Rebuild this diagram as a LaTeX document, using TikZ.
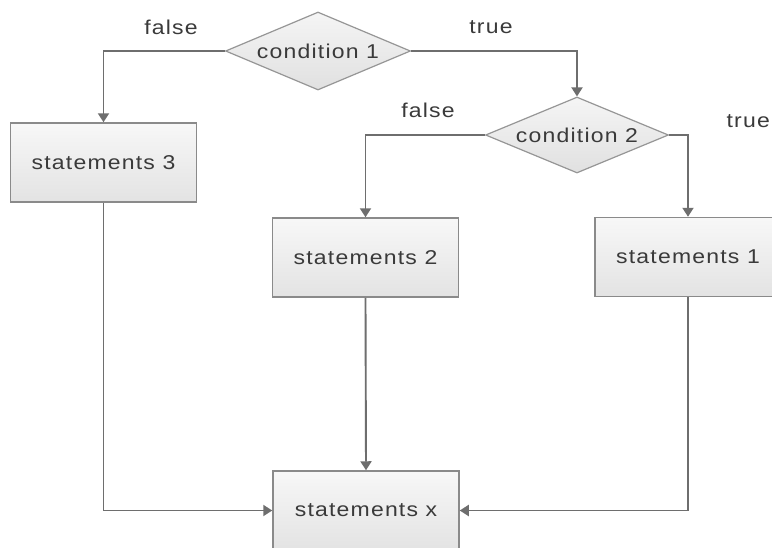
\documentclass[tikz,border=0pt]{standalone}
\usepackage{fontspec}
\setmainfont{Liberation Sans}
\newfontfamily\labfont[FakeStretch=1.15,LetterSpace=6]{Liberation Sans}
\usetikzlibrary{shapes.geometric,arrows.meta}
\definecolor{linegray}{HTML}{6E6E6E}
\definecolor{bordergray}{HTML}{8A8A8A}
\definecolor{txtgray}{HTML}{3A3A3A}
\tikzset{
  stmt/.style={draw=bordergray, line width=1.5pt, top color=white!97!black, bottom color=white!89!black,
    minimum width=186pt, minimum height=79pt, inner sep=0pt, font=\labfont\fontsize{20}{24}\selectfont, text=txtgray},
  cond/.style={diamond, draw=bordergray!90, line width=1.2pt, top color=white!96!black, bottom color=white!88!black,
    minimum width=185pt, minimum height=78pt, aspect=2.37, inner sep=0pt, font=\labfont\fontsize{20}{24}\selectfont, text=txtgray},
  conn/.style={draw=linegray, line width=1.9pt, -{Triangle[width=11pt,length=9pt]}},
  lbl/.style={font=\labfont\fontsize{20}{24}\selectfont, text=txtgray, inner sep=0pt}
}
\begin{document}
\begin{tikzpicture}[x=1pt,y=-1pt]
\useasboundingbox (0,0) rectangle (772,547);
\clip (0,0) rectangle (772,547);
\fill[white] (0,0) rectangle (772,547);
\node[cond] (d1) at (318,51) {condition 1};
\node[cond, minimum width=183pt, minimum height=76pt] (d2) at (577,135) {condition 2};
\node[stmt] (b3) at (103.5,162.5) {statements 3};
\node[stmt] (b2) at (365.5,257.5) {statements 2};
\node[stmt] (b1) at (688,257) {statements 1};
\node[stmt] (bx) at (366,510.5) {statements x};
\node[lbl] (f1) at (171,27) {false};
\node[lbl] (t1) at (491,27) {true};
\node[lbl] (f2) at (428,110) {false};
\node[lbl, anchor=east] (t2) at (770,121) {true};
\draw[conn] (d1.west) -| (b3.north);
\draw[conn] (d1.east) -| (d2.north);
\draw[conn] (d2.west) -| (b2.north);
\draw[conn] (d2.east) -| (b1.north);
\draw[conn] (b3.south) |- (bx.west);
\draw[conn] (b2.south) -- (bx.north);
\draw[conn] (b1.south) |- (bx.east);
\end{tikzpicture}
\end{document}
